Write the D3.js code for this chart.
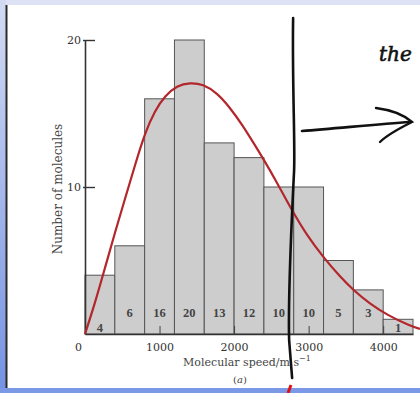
<!DOCTYPE html>
<html>
<head>
<meta charset="utf-8">
<script src="https://cdn.jsdelivr.net/npm/d3@7"></script>
<style>
  html, body { margin: 0; padding: 0; background: #fff; }
  svg { display: block; }
</style>
</head>
<body>
<svg id="chart" width="420" height="393"></svg>
<script>
// histogram: bins of 400 m/s
const binStarts = [0, 400, 800, 1200, 1600, 2000, 2400, 2800, 3200, 3600, 4000];
const binWidth = 400;
const counts = [4, 6, 16, 20, 13, 12, 10, 10, 5, 3, 1];

// smooth distribution curve
const curveSpeed = [0, 134, 268, 402, 537, 671, 805, 939, 1073, 1234, 1408, 1583, 1771,
  1945, 2120, 2254, 2388, 2576, 2777, 2978, 3193, 3421, 3595, 3823, 4051, 4359, 4493];
const curveCount = [0, 2.1, 4.5, 6.9, 9.2, 11.5, 13.7, 15.2, 16.2, 16.9, 17.1, 17.0, 16.4,
  15.4, 14.15, 13.05, 11.95, 10.3, 8.4, 6.7, 5.25, 3.9, 3.0, 2.05, 1.3, 0.55, 0.35];

const xTicks = [0, 1000, 2000, 3000, 4000];
const yTicks = [10, 20];

// hand-drawn marker speed
const markerSpeed = 2765;

const svg = d3.select("#chart");
const W = 420, H = 393;

// frame (slide background)
const grad = svg.append("defs").append("linearGradient")
  .attr("id", "side").attr("x1", 0).attr("y1", 0).attr("x2", 0).attr("y2", 1);
grad.append("stop").attr("offset", "0%").attr("stop-color", "#d3dbf3");
grad.append("stop").attr("offset", "100%").attr("stop-color", "#7592e2");
svg.append("rect").attr("x", 0).attr("y", 0).attr("width", W).attr("height", 5).attr("fill", "#dde3f5");
svg.append("rect").attr("x", 0).attr("y", 0).attr("width", 6).attr("height", H).attr("fill", "url(#side)");
svg.append("rect").attr("x", 0).attr("y", 388).attr("width", W).attr("height", 5).attr("fill", "#7b98e6");
svg.append("line").attr("x1", 6.5).attr("x2", 6.5).attr("y1", 5).attr("y2", 388)
  .attr("stroke", "#2a2a2a").attr("stroke-width", 2);

// scales
const x = d3.scaleLinear().domain([0, 4400]).range([85, 413]);
const y = d3.scaleLinear().domain([0, 20]).range([334, 40]);

const serif = "'DejaVu Serif', 'Liberation Serif', serif";

// bars
svg.append("g").selectAll("rect")
  .data(counts)
  .join("rect")
  .attr("x", (d, i) => x(binStarts[i]))
  .attr("y", d => y(d))
  .attr("width", (d, i) => x(binStarts[i] + binWidth) - x(binStarts[i]))
  .attr("height", d => y(0) - y(d))
  .attr("fill", "#cdcdcd")
  .attr("stroke", "#555")
  .attr("stroke-width", 1);

// counts inside bars
svg.append("g").selectAll("text")
  .data(counts)
  .join("text")
  .attr("x", (d, i) => x(binStarts[i] + binWidth / 2))
  .attr("y", (d, i) => (i === 0 || i === counts.length - 1) ? 332 : 317)
  .attr("text-anchor", "middle")
  .attr("font-family", "'Liberation Serif', serif")
  .attr("font-weight", "bold")
  .attr("font-size", 12.5)
  .attr("fill", "#444")
  .text(d => d);

// axes
const xAxis = svg.append("g")
  .attr("transform", `translate(0,${y(0)})`)
  .call(d3.axisBottom(x).tickValues(xTicks).tickFormat(d3.format("d"))
    .tickSize(-8).tickSizeOuter(0).tickPadding(9));
xAxis.select(".domain").attr("stroke", "#333").attr("stroke-width", 1.6);
xAxis.selectAll(".tick line").attr("stroke", "#444");
xAxis.selectAll(".tick").filter(d => d === 0).select("line").remove();
xAxis.selectAll(".tick text")
  .attr("font-family", serif).attr("font-size", 11).attr("fill", "#333")
  .attr("dx", d => d === 0 ? -7 : 0);

const yAxis = svg.append("g")
  .attr("transform", `translate(${x(0)},0)`)
  .call(d3.axisLeft(y).tickValues(yTicks).tickSize(-10).tickSizeOuter(0).tickPadding(4));
yAxis.select(".domain").attr("stroke", "#333").attr("stroke-width", 1.6);
yAxis.selectAll(".tick line").attr("stroke", "#333").attr("stroke-width", 1.4).attr("x1", -2);
yAxis.selectAll(".tick text")
  .attr("font-family", serif).attr("font-size", 11).attr("fill", "#333");

// axis titles
svg.append("text")
  .attr("transform", `translate(62,${(y(0) + y(20)) / 2 + 2}) rotate(-90)`)
  .attr("text-anchor", "middle")
  .attr("font-family", serif).attr("font-size", 12).attr("fill", "#444")
  .text("Number of molecules");

const xt = svg.append("text")
  .attr("x", 247).attr("y", 366)
  .attr("text-anchor", "middle")
  .attr("font-family", serif).attr("font-size", 11).attr("fill", "#444");
xt.append("tspan").text("Molecular speed/m s");
xt.append("tspan").attr("dy", -5).attr("font-size", 8).text("\u22121");

const ta = svg.append("text")
  .attr("x", 240).attr("y", 383)
  .attr("text-anchor", "middle")
  .attr("font-family", serif).attr("font-size", 10).attr("fill", "#444");
ta.append("tspan").text("(");
ta.append("tspan").attr("font-style", "italic").text("a");
ta.append("tspan").text(")");

// distribution curve
const line = d3.line()
  .x(d => x(d[0]))
  .y(d => y(d[1]))
  .curve(d3.curveBasis);
svg.append("path")
  .datum(curveSpeed.map((s, i) => [s, curveCount[i]]))
  .attr("d", line)
  .attr("fill", "none")
  .attr("stroke", "#b3262b")
  .attr("stroke-width", 2.2);

// hand-drawn annotations
const mx = x(markerSpeed);
svg.append("path")
  .attr("d", `M${mx + 2},18 C${mx + 1},80 ${mx + 4},140 ${mx + 3},170 C${mx},230 ${mx - 3},300 ${mx - 2},340 L${mx + 1},378`)
  .attr("fill", "none").attr("stroke", "#111").attr("stroke-width", 2.6).attr("stroke-linecap", "round");

svg.append("path")
  .attr("d", "M302,131 C340,128 380,124 410,122")
  .attr("fill", "none").attr("stroke", "#111").attr("stroke-width", 2.6).attr("stroke-linecap", "round");
svg.append("path")
  .attr("d", "M376,108 C392,110 404,115 412,122 C400,128 388,134 380,142")
  .attr("fill", "none").attr("stroke", "#111").attr("stroke-width", 2.4).attr("stroke-linecap", "round");

svg.append("text")
  .attr("x", 379).attr("y", 61)
  .attr("font-family", serif).attr("font-style", "italic")
  .attr("font-size", 20).attr("fill", "#111")
  .attr("stroke", "#111").attr("stroke-width", 0.6)
  .text("the");

svg.append("path")
  .attr("d", "M291,385 L288,393")
  .attr("stroke", "#e01010").attr("stroke-width", 3);
</script>
</body>
</html>
